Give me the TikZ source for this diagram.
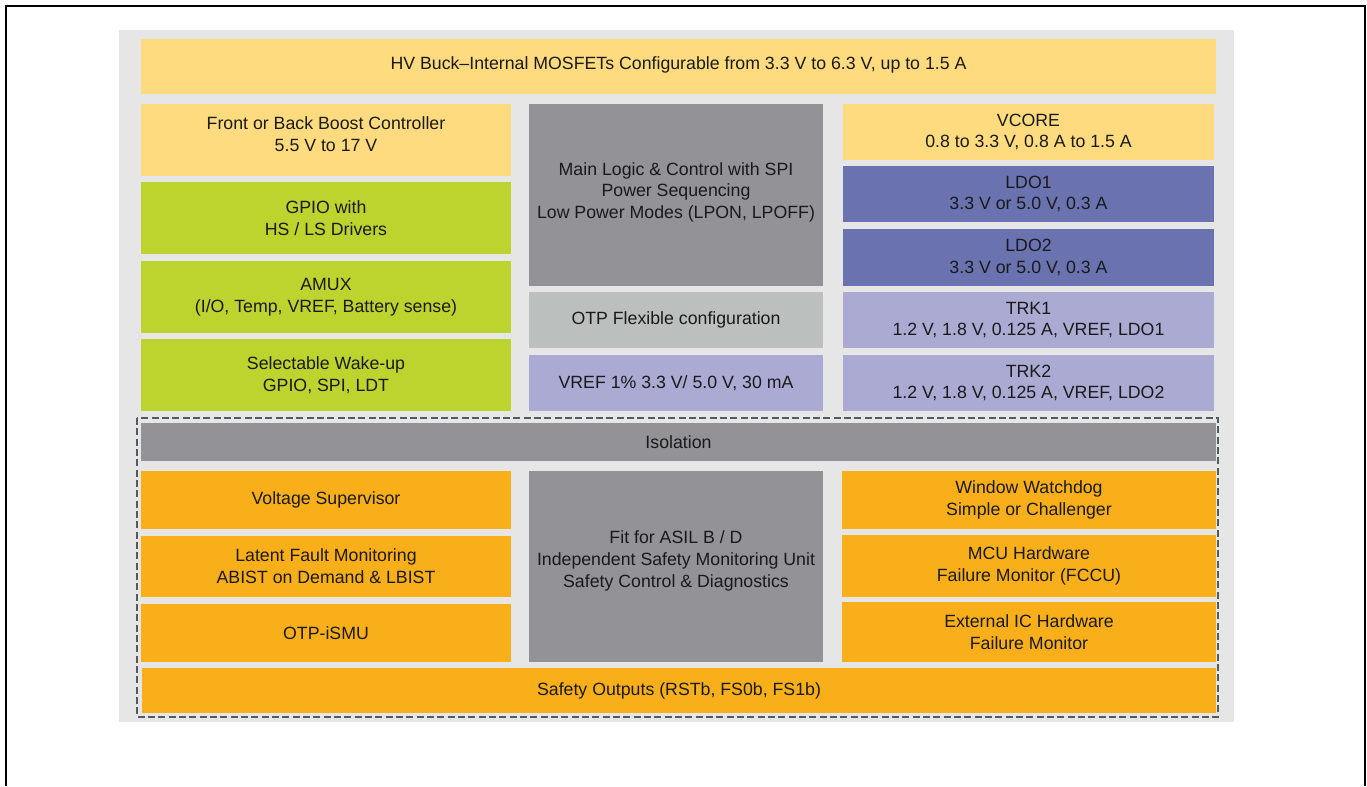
\documentclass[tikz,border=0pt]{standalone}
\usepackage{fontspec}
\setmainfont{Liberation Sans}
\definecolor{bggray}{HTML}{E6E6E6}
\definecolor{yel}{HTML}{FEDB7E}
\definecolor{grn}{HTML}{BDD32E}
\definecolor{dgray}{HTML}{939297}
\definecolor{lgray}{HTML}{BBC0BF}
\definecolor{dblue}{HTML}{6A72B0}
\definecolor{lav}{HTML}{AAAAD3}
\definecolor{org}{HTML}{F9AF1A}
\definecolor{dashcol}{HTML}{555A62}
\definecolor{txt}{HTML}{1A1A1A}
\tikzset{
  blk/.style={fill=#1, inner sep=0pt, align=center, text=txt,
    font=\fontsize{13.3}{16.3}\selectfont},
  sz/.style 2 args={minimum width=#1*0.75pt, minimum height=#2*0.75pt}
}
\begin{document}
\begin{tikzpicture}[x=0.75pt,y=-0.75pt]
    \useasboundingbox (0,0) rectangle (1367,786);
    \draw[line width=1.5pt] (6,786) -- (6,6) -- (1365,6) -- (1365,786);
    \fill[bggray] (119,30) rectangle (1234,722);
    % power part
    \node[blk=yel, sz={1075}{55}, text depth=5pt] (buck) at (678.5,66.5) {HV Buck--Internal MOSFETs Configurable from 3.3 V to 6.3 V, up to 1.5 A};
    \node[blk=yel, sz={370}{72}, text depth=9pt] (boost) at (326,140) {Front or Back Boost Controller\\5.5 V to 17 V};
    \node[blk=grn, sz={370}{72}] (gpio) at (326,218) {GPIO with\\HS / LS Drivers};
    \node[blk=grn, sz={370}{72}] (amux) at (326,297) {AMUX\\(I/O, Temp, VREF, Battery sense)};
    \node[blk=grn, sz={370}{72}] (wake) at (326,375) {Selectable Wake-up\\GPIO, SPI, LDT};
    \node[blk=dgray, sz={294}{182}, text depth=7pt] (logic) at (676,195) {Main Logic \& Control with SPI\\Power Sequencing\\Low Power Modes (LPON, LPOFF)};
    \node[blk=lgray, sz={294}{56}] (otp) at (676,320) {OTP Flexible configuration};
    \node[blk=lav, sz={294}{56}] (vref) at (676,383) {VREF 1\% 3.3 V/ 5.0 V, 30 mA};
    \node[blk=yel, sz={371}{56}] (vcore) at (1028.5,132) {VCORE\\0.8 to 3.3 V, 0.8 A to 1.5 A};
    \node[blk=dblue, sz={371}{56}] (ldo1) at (1028.5,194) {LDO1\\3.3 V or 5.0 V, 0.3 A};
    \node[blk=dblue, sz={371}{57}] (ldo2) at (1028.5,257.5) {LDO2\\3.3 V or 5.0 V, 0.3 A};
    \node[blk=lav, sz={371}{56}] (trk1) at (1028.5,320) {TRK1\\1.2 V, 1.8 V, 0.125 A, VREF, LDO1};
    \node[blk=lav, sz={371}{56}] (trk2) at (1028.5,383) {TRK2\\1.2 V, 1.8 V, 0.125 A, VREF, LDO2};
    % safety part
    \draw[dashcol, line width=1pt, dash pattern=on 5.25pt off 2.5pt] (137,418) rectangle (1218,717);
    \node[blk=dgray, sz={1075}{38}] (iso) at (678.5,442) {Isolation};
    \node[blk=org, sz={370}{58}] (vsup) at (326,500) {Voltage Supervisor};
    \node[blk=org, sz={370}{61}] (lfm) at (326,566.5) {Latent Fault Monitoring\\ABIST on Demand \& LBIST};
    \node[blk=org, sz={370}{58}] (ismu) at (326,633) {OTP-iSMU};
    \node[blk=dgray, sz={294}{191}, text depth=11.5pt] (asil) at (676,566.5) {Fit for ASIL B / D\\Independent Safety Monitoring Unit\\Safety Control \& Diagnostics};
    \node[blk=org, sz={374}{58}] (wdog) at (1029,500) {Window Watchdog\\Simple or Challenger};
    \node[blk=org, sz={374}{62}] (fccu) at (1029,566) {MCU Hardware\\Failure Monitor (FCCU)};
    \node[blk=org, sz={374}{60}] (extic) at (1029,632) {External IC Hardware\\Failure Monitor};
    \node[blk=org, sz={1074}{45}] (sout) at (679,690.5) {Safety Outputs (RSTb, FS0b, FS1b)};
\end{tikzpicture}
\end{document}
